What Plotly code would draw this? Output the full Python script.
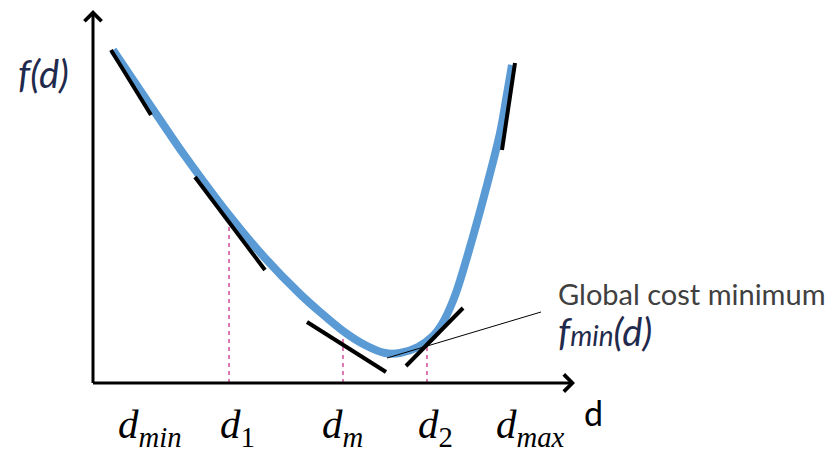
import plotly.graph_objects as go

# Cost curve f(d) (schematic units)
curve_d = [20, 57, 74, 92, 136, 172, 207, 227, 250, 272, 292, 307, 325, 339, 349, 357, 364, 379, 394, 407, 413, 419]
curve_f = [333, 278, 253, 227, 168, 125, 89, 71, 52, 38, 30, 30, 36, 46, 59, 75, 93, 143, 198, 250, 283, 318]

# Tangent segments (start / end)
tan_d0 = [18, 102, 214, 313, 409]
tan_f0 = [333, 206, 61, 17, 233]
tan_d1 = [58, 172, 293, 370, 422]
tan_f1 = [268, 113, 11, 75, 320]

# Marked points on the d axis
mark_d = [136, 250, 334]
mark_f = [160, 47, 42]

# Tick labels
tick_d = [57, 144, 249, 342, 437]
tick_text = ["<i>d</i><sub><i>min</i></sub>", "<i>d</i><sub>1</sub>", "<i>d</i><sub><i>m</i></sub>",
             "<i>d</i><sub>2</sub>", "<i>d</i><sub><i>max</i></sub>"]

# Leader line to the global minimum label
leader_d = [294, 448]
leader_f = [25, 71]

x_max, y_max = 482, 375

fig = go.Figure()

# dashed marker lines
for d, f in zip(mark_d, mark_f):
    fig.add_trace(go.Scatter(x=[d, d], y=[0, f], mode="lines",
                             line=dict(color="#D0308C", width=1.3, dash="4px,4px"),
                             hoverinfo="skip", showlegend=False))

fig.add_trace(go.Scatter(x=curve_d, y=curve_f, mode="lines",
                         line=dict(color="#5B9BD5", width=8, shape="spline", smoothing=1.0),
                         showlegend=False))

tx, ty = [], []
for a, b, c, e in zip(tan_d0, tan_f0, tan_d1, tan_f1):
    tx += [a, c, None]
    ty += [b, e, None]
fig.add_trace(go.Scatter(x=tx, y=ty, mode="lines", line=dict(color="black", width=4),
                         showlegend=False))

fig.add_trace(go.Scatter(x=leader_d, y=leader_f, mode="lines", line=dict(color="black", width=1),
                         showlegend=False))

ann = []
# axes arrows
ann.append(dict(x=x_max, y=0, ax=-1.5, ay=0, xref="x", yref="y", axref="x", ayref="y",
                showarrow=True, arrowhead=4, arrowsize=1.1, arrowwidth=3, arrowcolor="black", text=""))
ann.append(dict(x=0, y=y_max - 2, ax=0, ay=-1.5, xref="x", yref="y", axref="x", ayref="y",
                showarrow=True, arrowhead=4, arrowsize=1.1, arrowwidth=3, arrowcolor="black", text=""))

for d, t in zip(tick_d, tick_text):
    ann.append(dict(x=d, y=-44, xref="x", yref="y", text=t, showarrow=False,
                    font=dict(family="Liberation Serif", size=41, color="black"),
                    xanchor="center", yanchor="middle"))

ann.append(dict(x=500, y=-29, text="d", showarrow=False, xref="x", yref="y",
                font=dict(family="Lato", size=34, color="black")))
ann.append(dict(x=-50, y=310, text="<i>f(d)</i>", showarrow=False, xref="x", yref="y",
                font=dict(family="Lato", size=38, color="#1F2A4D")))
ann.append(dict(x=463, y=90, text="Global cost minimum", showarrow=False, xref="x", yref="y",
                xanchor="left", yanchor="middle",
                font=dict(family="Lato", size=29, color="#404040")))
ann.append(dict(x=463, y=52, text="<i>f</i><i style='font-size:28px'>min</i><i>(d)</i>", showarrow=False,
                xref="x", yref="y", xanchor="left", yanchor="middle",
                font=dict(family="Lato", size=38, color="#1F2A4D")))

# page body adds an 8px offset; shift the ranges to compensate
fig.update_layout(
    width=833, height=455,
    margin=dict(l=0, r=0, t=0, b=0),
    paper_bgcolor="white", plot_bgcolor="white",
    xaxis=dict(range=[-85, 748], visible=False, fixedrange=True),
    yaxis=dict(range=[-80, 375], visible=False, fixedrange=True),
    annotations=ann,
    showlegend=False,
)

fig.write_html("out.html")
